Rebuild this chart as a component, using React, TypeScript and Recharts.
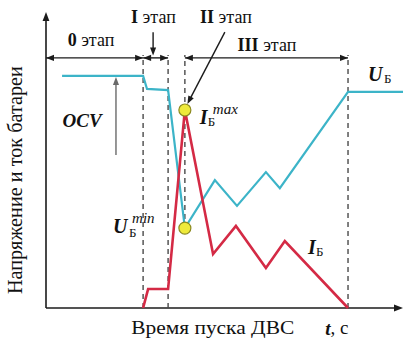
import { Line, LineChart, ReferenceDot, ReferenceLine, XAxis, YAxis } from "recharts"

// time runs 0..100 across the plot, values 0..100 up the plot (arbitrary units)
const voltageTime = [4.5, 27.2, 28.3, 34.2, 38.9, 47.3, 53.5, 61.6, 65.5, 84.6, 100]
const voltageValues = [78.4, 78.4, 74.0, 73.6, 27.0, 43.2, 34.5, 45.9, 40.5, 73.0, 73.0]

const currentTime = [27.2, 28.6, 34.2, 38.9, 46.8, 53.2, 61.6, 66.9, 84.6]
const currentValues = [0, 6.4, 6.4, 66.9, 18.2, 27.7, 13.5, 22.6, 0]

const stageBounds = [27.2, 34.2, 38.9, 84.6]
const stageArrowLevel = 84.5
const dashTop = 85.5

const peakTime = 38.9
const currentMax = 66.9
const voltageMin = 27.0

const voltage = voltageTime.map((t, i) => ({ t, v: voltageValues[i] }))
const current = currentTime.map((t, i) => ({ t, v: currentValues[i] }))

const AXIS = "#1b1b1b"
const DASH = "#4a4a4a"
const CYAN = "#3cb4c8"
const RED = "#d42a45"
const FONT = "'Liberation Serif', 'Times New Roman', serif"

const Arrowhead = ({ cx, cy, angle, color = AXIS, size = 9 }: any) => (
  <polygon
    points={`0,0 ${-size},${-size * 0.38} ${-size},${size * 0.38}`}
    transform={`translate(${cx},${cy}) rotate(${angle})`}
    fill={color}
  />
)

const arrowAt = (key: string, x: number, y: number, angle: number, color = AXIS, size = 9) => (
  <ReferenceDot
    key={key}
    x={x}
    y={y}
    r={0}
    ifOverflow="visible"
    shape={(p: any) => <Arrowhead cx={p.cx} cy={p.cy} angle={angle} color={color} size={size} />}
  />
)

const segment = (key: string, x1: number, y1: number, x2: number, y2: number, stroke = AXIS, width = 1.4, dash?: string) => (
  <ReferenceLine
    key={key}
    segment={[{ x: x1, y: y1 }, { x: x2, y: y2 }]}
    stroke={stroke}
    strokeWidth={width}
    strokeDasharray={dash}
    ifOverflow="visible"
  />
)

const note = (key: string, x: number, y: number, draw: (cx: number, cy: number) => any) => (
  <ReferenceDot key={key} x={x} y={y} r={0} ifOverflow="visible" shape={(p: any) => draw(p.cx, p.cy)} />
)

const stageText = (num: string, cx: number, cy: number) => (
  <text x={cx} y={cy} textAnchor="middle" dominantBaseline="central" fontFamily={FONT} fontSize={18} fill="#111">
    <tspan fontWeight="bold">{num}</tspan> этап
  </text>
)

export default function App() {
  return (
    <div style={{ position: "absolute", left: 0, top: 0, background: "#fff" }}>
      <LineChart width={417} height={340} margin={{ top: 12, right: 14, bottom: 32, left: 46 }}>
        <XAxis type="number" dataKey="t" domain={[0, 100]} hide />
        <YAxis type="number" domain={[0, 100]} hide />

        {/* axes with arrows */}
        {segment("yaxis", 0, 0, 0, 99, AXIS, 1.6)}
        {arrowAt("yarrow", 0, 100, -90)}
        {segment("xaxis", 0, 0, 99, 0, AXIS, 1.6)}
        {arrowAt("xarrow", 100, 0, 0)}

        {/* stage borders */}
        {segment("d0", stageBounds[0], 0, stageBounds[0], dashTop, DASH, 1.4, "5 4")}
        {segment("d1", stageBounds[1], 0, stageBounds[1], dashTop, DASH, 1.4, "5 4")}
        {segment("d2", stageBounds[2], voltageMin, stageBounds[2], dashTop, DASH, 1.4, "5 4")}
        {segment("d3", stageBounds[3], 0, stageBounds[3], dashTop, DASH, 1.4, "5 4")}

        {/* stage spans */}
        {segment("s0", 0, stageArrowLevel, stageBounds[0], stageArrowLevel)}
        {arrowAt("s0l", 0, stageArrowLevel, 180, AXIS, 8)}
        {arrowAt("s0r", stageBounds[0], stageArrowLevel, 0, AXIS, 8)}
        {segment("s1", stageBounds[0], stageArrowLevel, stageBounds[1], stageArrowLevel)}
        {arrowAt("s1l", stageBounds[0], stageArrowLevel, 180, AXIS, 8)}
        {arrowAt("s1r", stageBounds[1], stageArrowLevel, 0, AXIS, 8)}
        {segment("s3", stageBounds[2], stageArrowLevel, stageBounds[3], stageArrowLevel)}
        {arrowAt("s3l", stageBounds[2], stageArrowLevel, 180, AXIS, 8)}
        {arrowAt("s3r", stageBounds[3], stageArrowLevel, 0, AXIS, 8)}

        {/* pointers */}
        {segment("p1", 30.0, 93.2, 30.0, 86.5)}
        {arrowAt("p1a", 30.0, 85.3, 90, AXIS, 8)}
        {segment("p2", 50.1, 93.2, 40.2, 70.3)}
        {arrowAt("p2a", 39.6, 68.9, 117.5, AXIS, 8)}
        {segment("ocv", 19.6, 51.7, 19.6, 76.0, "#6a6a6a", 1.4)}
        {arrowAt("ocva", 19.6, 78.0, -90, "#6a6a6a", 8)}

        <Line data={voltage} dataKey="v" type="linear" stroke={CYAN} strokeWidth={2.2} dot={false} isAnimationActive={false} />
        <Line data={current} dataKey="v" type="linear" stroke={RED} strokeWidth={2.6} dot={false} isAnimationActive={false} />

        <ReferenceDot x={peakTime} y={currentMax} r={6} fill="#eeea3a" stroke="#8c8a20" strokeWidth={1.2} />
        <ReferenceDot x={peakTime} y={voltageMin} r={6} fill="#eeea3a" stroke="#8c8a20" strokeWidth={1.2} />

        {/* labels */}
        {note("l0", 12.6, 90.5, (cx, cy) => stageText("0", cx, cy))}
        {note("l1", 30.1, 98.3, (cx, cy) => stageText("I", cx, cy))}
        {note("l2", 50.4, 98.3, (cx, cy) => stageText("II", cx, cy))}
        {note("l3", 61.9, 88.9, (cx, cy) => stageText("III", cx, cy))}

        {note("ocvt", 10.1, 63.5, (cx, cy) => (
          <text x={cx} y={cy} textAnchor="middle" dominantBaseline="central" fontFamily={FONT} fontSize={19} fontWeight="bold" fontStyle="italic" fill="#111">
            OCV
          </text>
        ))}
        {note("ub", 90.2, 78.7, (cx, cy) => (
          <g fontFamily={FONT} fill="#111">
            <text x={cx} y={cy + 6} fontSize={20} fontWeight="bold" fontStyle="italic">U</text>
            <text x={cx + 16} y={cy + 8} fontSize={13}>Б</text>
          </g>
        ))}
        {note("imax", 43.1, 64.5, (cx, cy) => (
          <g fontFamily={FONT} fill="#111">
            <text x={cx} y={cy + 7} fontSize={20} fontWeight="bold" fontStyle="italic">I</text>
            <text x={cx + 13} y={cy - 3} fontSize={15} fontStyle="italic">max</text>
            <text x={cx + 8} y={cy + 9} fontSize={13}>Б</text>
          </g>
        ))}
        {note("umin", 18.8, 27.7, (cx, cy) => (
          <g fontFamily={FONT} fill="#111">
            <text x={cx} y={cy + 7} fontSize={20} fontWeight="bold" fontStyle="italic">U</text>
            <text x={cx + 19} y={cy - 3} fontSize={15} fontStyle="italic">min</text>
            <text x={cx + 16} y={cy + 11} fontSize={13}>Б</text>
          </g>
        ))}
        {note("ib", 73.4, 20.6, (cx, cy) => (
          <g fontFamily={FONT} fill="#111">
            <text x={cx} y={cy + 7} fontSize={20} fontWeight="bold" fontStyle="italic">I</text>
            <text x={cx + 8} y={cy + 9} fontSize={13}>Б</text>
          </g>
        ))}

        {note("ylab", -8.6, 43.2, (cx, cy) => (
          <text x={cx} y={cy} textAnchor="middle" dominantBaseline="central" transform={`rotate(-90, ${cx}, ${cy})`} fontFamily={FONT} fontSize={21} textLength={228} lengthAdjust="spacingAndGlyphs" fill="#111">
            Напряжение и ток батареи
          </text>
        ))}
        {note("xlab", 46.7, -6.6, (cx, cy) => (
          <text x={cx} y={cy} textAnchor="middle" dominantBaseline="central" fontFamily={FONT} fontSize={19} textLength={163} lengthAdjust="spacingAndGlyphs" fill="#111">
            Время пуска ДВС
          </text>
        ))}
        {note("tlab", 78.2, -6.6, (cx, cy) => (
          <text x={cx} y={cy} dominantBaseline="central" fontFamily={FONT} fontSize={19} fill="#111">
            <tspan fontWeight="bold" fontStyle="italic">t</tspan>, с
          </text>
        ))}
      </LineChart>
    </div>
  )
}
